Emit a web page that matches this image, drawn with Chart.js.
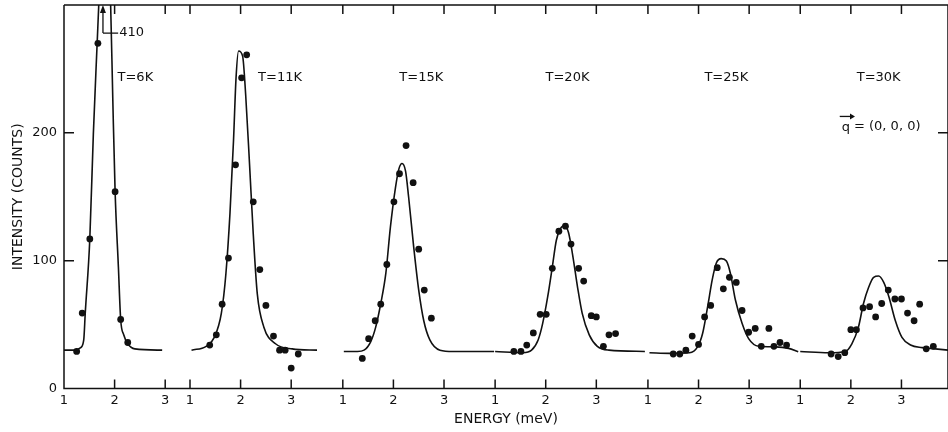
<!DOCTYPE html>
<html>
<head>
<meta charset="utf-8">
<script src="https://cdn.jsdelivr.net/npm/chart.js@4.4.1/dist/chart.umd.min.js"></script>
<style>
  html, body { margin: 0; padding: 0; background: #fff; }
  #wrap { width: 948px; height: 432px; }
</style>
</head>
<body>
<div id="wrap"><canvas id="energyChart"></canvas></div>
<script>
// each temperature panel sits on a shared energy axis, shifted by these offsets (meV)
const panelOffsets = [0, 2.49, 5.51, 8.52, 11.54, 14.55];
const panelLabels = ['T=6K', 'T=11K', 'T=15K', 'T=20K', 'T=25K', 'T=30K'];
const labelEnergy = [2.41, 2.78, 2.55, 2.43, 2.55, 2.55];
const labelCount = 243;
const tickEnergies = [1, 2, 3];
const yTicks = [0, 100, 200];

// measured intensities
const e6K = [1.25, 1.36, 1.51, 1.67, 2.01, 2.12, 2.26];
const c6K = [29, 59, 117, 270, 154, 54, 36];
const e11K = [1.39, 1.52, 1.635, 1.76, 1.90, 2.02, 2.12, 2.25, 2.38, 2.50, 2.65, 2.77, 2.88, 3.0, 3.14];
const c11K = [34, 42, 66, 102, 175, 243, 261, 146, 93, 65, 41, 30, 30, 16, 27];
const e15K = [1.385, 1.51, 1.64, 1.75, 1.87, 2.01, 2.12, 2.25, 2.39, 2.50, 2.61, 2.75];
const c15K = [23.5, 39, 53, 66, 97, 146, 168, 190, 161, 109, 77, 55];
const e20K = [1.37, 1.51, 1.625, 1.755, 1.89, 2.01, 2.13, 2.26, 2.39, 2.50, 2.65, 2.75, 2.90, 3.0, 3.14, 3.25, 3.38];
const c20K = [29, 29, 34, 43.5, 58, 58, 94, 123, 127, 113, 94, 84, 57, 56, 33, 42, 43];
const e25K = [1.50, 1.63, 1.75, 1.875, 2.0, 2.12, 2.24, 2.37, 2.49, 2.61, 2.745, 2.86, 2.99, 3.12, 3.24, 3.39, 3.49, 3.61, 3.74];
const c25K = [27, 27, 30, 41, 34.5, 56, 65, 94.5, 78, 87, 83, 61, 44, 47, 33, 47, 33, 36, 34];
const e30K = [1.61, 1.75, 1.88, 2.0, 2.11, 2.24, 2.37, 2.49, 2.61, 2.74, 2.87, 3.0, 3.12, 3.25, 3.36, 3.49, 3.63];
const c30K = [27, 25, 28, 46, 46, 63, 64, 56, 66.5, 77, 70, 70, 59, 53, 66, 31, 33];

// fitted curves
const fitE6K = [1.0, 1.2, 1.33, 1.39, 1.42, 1.51, 1.58, 1.655, 1.69, 1.80, 1.92, 1.965, 2.01, 2.075, 2.12, 2.18, 2.26, 2.40, 2.94];
const fitC6K = [30, 30, 32, 38, 59, 117, 199, 270, 303, 410, 303, 225, 154, 95, 54, 42, 35, 31, 30];
const fitE11K = [1.03, 1.32, 1.48, 1.62, 1.71, 1.79, 1.86, 1.91, 1.96, 2.04, 2.10, 2.18, 2.25, 2.33, 2.46, 2.69, 3.02, 3.51];
const fitC11K = [30, 33, 40, 59, 90, 137, 194, 243, 264, 260, 230, 173, 121, 74, 48, 35, 31, 30];
const fitE15K = [1.02, 1.29, 1.42, 1.55, 1.65, 1.75, 1.85, 1.94, 2.04, 2.11, 2.17, 2.24, 2.30, 2.40, 2.50, 2.60, 2.72, 2.92, 3.18, 3.99];
const fitC15K = [29, 29, 30, 36.5, 48, 66.5, 90, 126, 157, 172, 176, 170, 150, 111, 77, 53, 38, 30, 29, 29];
const fitE20K = [1.0, 1.55, 1.72, 1.85, 1.94, 2.04, 2.13, 2.21, 2.29, 2.37, 2.45, 2.53, 2.63, 2.72, 2.86, 3.02, 3.25, 3.96];
const fitC20K = [29, 28, 30, 38, 51, 72, 95, 116, 125, 127.5, 122, 105, 79, 59, 42, 33, 30, 29];
const fitE25K = [1.03, 1.43, 1.82, 1.98, 2.08, 2.18, 2.27, 2.35, 2.45, 2.55, 2.63, 2.73, 2.86, 2.99, 3.19, 3.52, 3.78, 3.97];
const fitC25K = [28, 27.5, 28, 32.6, 43, 64, 85, 98, 101.6, 99.7, 90, 69, 51, 39, 33, 32.6, 31.4, 28.7];
const fitE30K = [1.0, 1.56, 1.89, 2.02, 2.15, 2.25, 2.35, 2.45, 2.55, 2.65, 2.75, 2.88, 3.01, 3.18, 3.41, 3.67, 3.93];
const fitC30K = [29, 28, 29, 35, 48, 66.5, 79, 87, 88, 83, 72, 53, 40, 34, 32, 31, 30];

const pointSets = [[e6K, c6K], [e11K, c11K], [e15K, c15K], [e20K, c20K], [e25K, c25K], [e30K, c30K]];
const fitSets = [[fitE6K, fitC6K], [fitE11K, fitC11K], [fitE15K, fitC15K], [fitE20K, fitC20K], [fitE25K, fitC25K], [fitE30K, fitC30K]];

const ink = '#111';
const font = 'DejaVu Sans';

const datasets = [];
fitSets.forEach(function (s, i) {
    datasets.push({
        label: panelLabels[i] + ' fit',
        data: s[0].map((e, j) => ({ x: e + panelOffsets[i], y: s[1][j] })),
        showLine: true,
        borderColor: ink,
        borderWidth: 1.6,
        pointRadius: 0,
        cubicInterpolationMode: 'monotone',
        fill: false
    });
});
pointSets.forEach(function (s, i) {
    datasets.push({
        label: panelLabels[i],
        data: s[0].map((e, j) => ({ x: e + panelOffsets[i], y: s[1][j] })),
        showLine: false,
        pointRadius: 3.4,
        pointBackgroundColor: ink,
        pointBorderWidth: 0
    });
});

const tickPositions = [];
panelOffsets.forEach(off => tickEnergies.forEach(e => tickPositions.push(e + off)));

// frame with inward ticks, panel labels and the 410 / q notes
const framePlugin = {
    id: 'frameAndNotes',
    afterDraw(chart) {
        const { ctx, chartArea: a, scales: { x, y } } = chart;
        ctx.save();
        ctx.strokeStyle = ink;
        ctx.fillStyle = ink;
        ctx.lineWidth = 1.5;
        ctx.beginPath();
        ctx.moveTo(a.left, a.top); ctx.lineTo(a.right, a.top);
        ctx.moveTo(a.left, a.top); ctx.lineTo(a.left, a.bottom); ctx.lineTo(a.right, a.bottom);
        ctx.moveTo(a.right, a.top); ctx.lineTo(a.right, a.bottom);
        x.ticks.forEach(t => {
            const px = x.getPixelForValue(t.value);
            ctx.moveTo(px, a.bottom); ctx.lineTo(px, a.bottom - 9);
            ctx.moveTo(px, a.top); ctx.lineTo(px, a.top + 9);
        });
        y.ticks.forEach(t => {
            if (t.value <= 0) return;
            const py = y.getPixelForValue(t.value);
            ctx.moveTo(a.left, py); ctx.lineTo(a.left + 10, py);
            ctx.moveTo(a.right, py); ctx.lineTo(a.right - 10, py);
        });
        ctx.stroke();

        ctx.font = '13px "' + font + '"';
        ctx.textAlign = 'center';
        ctx.textBaseline = 'middle';
        panelLabels.forEach((txt, i) => {
            ctx.fillText(txt, x.getPixelForValue(labelEnergy[i] + panelOffsets[i]), y.getPixelForValue(labelCount));
        });

        // peak of the 6K curve is off scale: 410 counts
        const ax = x.getPixelForValue(1.77 + panelOffsets[0]);
        const ay = y.getPixelForValue(278);
        ctx.lineWidth = 1.3;
        ctx.beginPath();
        ctx.moveTo(ax, ay); ctx.lineTo(ax, a.top + 6);
        ctx.moveTo(ax, ay); ctx.lineTo(x.getPixelForValue(2.07 + panelOffsets[0]), ay);
        ctx.stroke();
        ctx.beginPath();
        ctx.moveTo(ax, a.top); ctx.lineTo(ax - 3, a.top + 8); ctx.lineTo(ax + 3, a.top + 8);
        ctx.closePath(); ctx.fill();
        ctx.textAlign = 'left';
        ctx.fillText('410', x.getPixelForValue(2.09 + panelOffsets[0]), ay);

        // wave vector note
        const qx = x.getPixelForValue(1.82 + panelOffsets[5]);
        const qy = y.getPixelForValue(205);
        ctx.fillText('q', qx, qy + 1);
        const qw = ctx.measureText('q').width;
        ctx.fillText('= (0, 0, 0)', qx + qw + 4, qy);
        ctx.beginPath();
        ctx.moveTo(qx - 2, qy - 10); ctx.lineTo(qx + qw + 3, qy - 10);
        ctx.stroke();
        ctx.beginPath();
        ctx.moveTo(qx + qw + 5, qy - 10); ctx.lineTo(qx + qw, qy - 13); ctx.lineTo(qx + qw, qy - 7);
        ctx.closePath(); ctx.fill();
        ctx.restore();
    }
};

new Chart(document.getElementById('energyChart').getContext('2d'), {
    type: 'scatter',
    data: { datasets: datasets },
    options: {
        responsive: true,
        maintainAspectRatio: false,
        animation: false,
        layout: { autoPadding: false, padding: { top: 5, left: 0, right: 0, bottom: 0 } },
        plugins: {
            legend: { display: false },
            tooltip: { enabled: false }
        },
        scales: {
            x: {
                type: 'linear',
                min: 1,
                max: 18.47,
                afterBuildTicks: scale => { scale.ticks = tickPositions.map(v => ({ value: v })); },
                afterFit: scale => { scale.height = 43.5; scale.paddingLeft = 0; scale.paddingRight = 0; },
                grid: { display: false, drawTicks: false },
                border: { display: false },
                ticks: {
                    autoSkip: false,
                    maxRotation: 0,
                    padding: 4,
                    color: ink,
                    font: { family: font, size: 13 },
                    callback: (value, index) => String(tickEnergies[index % tickEnergies.length])
                },
                title: {
                    display: true,
                    text: 'ENERGY (meV)',
                    color: ink,
                    font: { family: font, size: 14 },
                    padding: { top: 0, bottom: 4 }
                }
            },
            y: {
                min: 0,
                max: 300,
                afterBuildTicks: scale => { scale.ticks = yTicks.map(v => ({ value: v })); },
                afterFit: scale => { scale.width = 64; scale.paddingTop = 0; scale.paddingBottom = 0; },
                grid: { display: false, drawTicks: false },
                border: { display: false },
                ticks: {
                    padding: 7,
                    color: ink,
                    font: { family: font, size: 13 }
                },
                title: {
                    display: true,
                    text: 'INTENSITY (COUNTS)',
                    color: ink,
                    font: { family: font, size: 14 },
                    padding: { top: 10, bottom: 0 }
                }
            }
        }
    },
    plugins: [framePlugin]
});
</script>
</body>
</html>
